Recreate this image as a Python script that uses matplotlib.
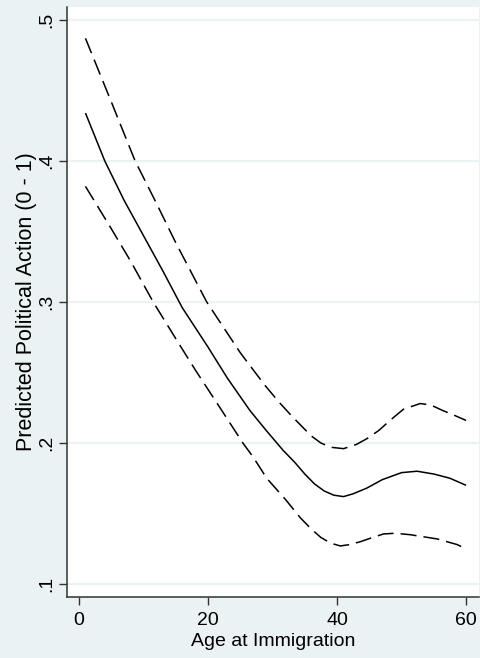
import numpy as np
import matplotlib as mpl
mpl.use("Agg")
import matplotlib.pyplot as plt

plt.rcParams['font.family'] = ['Liberation Sans', 'DejaVu Sans']

# predicted values
age = [1, 4, 7, 10, 13, 16, 20, 23, 26.5, 29, 31.6, 33.5, 35, 36.5, 38,
       39.5, 41, 42.5, 44.6, 47, 50, 52.4, 55, 57.5, 60]
pred = [0.434, 0.400, 0.372, 0.347, 0.322, 0.296, 0.268, 0.246, 0.223,
        0.209, 0.195, 0.186, 0.178, 0.171, 0.166, 0.163, 0.162, 0.164,
        0.168, 0.174, 0.179, 0.180, 0.178, 0.175, 0.170]

age_hi = [1, 5, 8.7, 12, 15, 19.8, 25, 28.8, 31, 33, 34.5, 36, 37.5, 39,
          41, 43, 44.6, 46.5, 48.2, 50.3, 52.9, 54.5, 56.4, 58, 60]
upper = [0.487, 0.442, 0.400, 0.370, 0.342, 0.300, 0.264, 0.241, 0.229,
         0.219, 0.212, 0.205, 0.200, 0.197, 0.196, 0.199, 0.203, 0.209,
         0.216, 0.224, 0.228, 0.227, 0.223, 0.220, 0.216]

age_lo = [1, 5, 8, 11.5, 15, 18, 22, 25.4, 27, 29.1, 32, 34.3, 36,
          37.5, 39, 40.5, 42, 43.6, 45.5, 47.2, 49, 51.3, 55.5, 58.6, 60]
lower = [0.382, 0.352, 0.329, 0.300, 0.274, 0.252, 0.224, 0.200, 0.190,
         0.175, 0.160, 0.147, 0.139, 0.133, 0.129, 0.127, 0.128, 0.130,
         0.133, 0.1355, 0.136, 0.135, 0.132, 0.128, 0.125]

xticks = [0, 20, 40, 60]
yticks = [0.1, 0.2, 0.3, 0.4, 0.5]
ylabels = ['.1', '.2', '.3', '.4', '.5']

bg = '#EAF2F3'
axcol = '#333333'
fs = 14

fig = plt.figure(figsize=(4.81, 6.58), dpi=100, facecolor=bg)
ax = fig.add_axes([67 / 481, 1 - 597 / 658, 412 / 481, 590 / 658])
ax.set_facecolor('white')

for y in yticks:
    ax.axhline(y, color=bg, lw=1.6, zorder=0)

dash = (10.5, 4.6)
ax.plot(age, pred, color='black', lw=1.1, solid_capstyle='butt')
ax.plot(age_hi, upper, color='black', lw=1.1, dashes=dash)
ax.plot(age_lo, lower, color='black', lw=1.1, dashes=dash)

ax.set_xlim(-1.86, 62.0)
ax.set_ylim(0.0908, 0.5092)
ax.set_xticks(xticks)
ax.set_yticks(yticks)
ax.set_yticklabels(ylabels, rotation=90, va='center')

for s in ['top', 'right']:
    ax.spines[s].set_visible(False)
for s in ['left', 'bottom']:
    ax.spines[s].set_color(axcol)
    ax.spines[s].set_linewidth(1.1)

ax.tick_params(axis='both', length=5.5, width=1.0, color=axcol,
               labelsize=fs, labelcolor='black')
ax.tick_params(axis='x', pad=5)
ax.tick_params(axis='y', pad=3)

ax.set_xlabel('Age at Immigration', fontsize=fs, labelpad=3)
ax.set_ylabel('Predicted Political Action (0 - 1)', fontsize=15.5,
              labelpad=1)

fig.savefig('out.png', dpi=100, facecolor=bg)
